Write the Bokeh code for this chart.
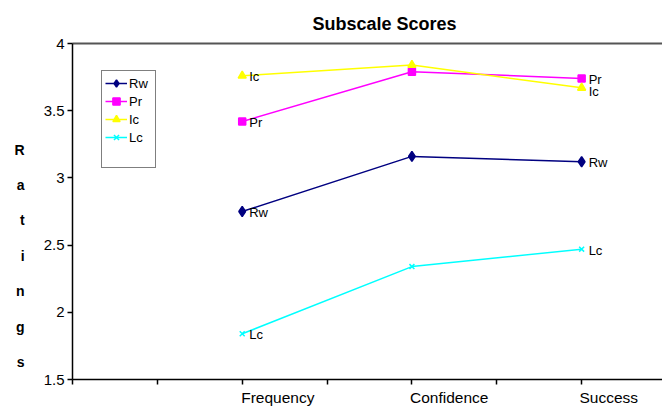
from bokeh.plotting import figure
from bokeh.models import (Range1d, FixedTicker, Legend, LegendItem, LinearAxis,
                          ColumnDataSource)
from bokeh.core.properties import value
from bokeh.embed import file_html
from bokeh.resources import INLINE

# ---------------- data ----------------
categories = ["Frequency", "Confidence", "Success"]
series_names = ["Rw", "Pr", "Ic", "Lc"]
rw = [2.75, 3.16, 3.12]
pr = [3.42, 3.79, 3.74]
ic = [3.76, 3.84, 3.67]
lc = [1.84, 2.34, 2.47]
y_ticks = [1.5, 2.0, 2.5, 3.0, 3.5, 4.0]
y_tick_labels = ["1.5", "2", "2.5", "3", "3.5", "4"]
title_text = "Subscale Scores"
y_axis_title = "Ratings"

# ---------------- layout / style ----------------
cat_x = [2, 4, 6]                 # category slots on an axis ticked every slot 0..6
label_x = [2.42, 4.44, 6.32]      # tick-label anchors (labels start at the slot)
colors = ["#000080", "#FF00FF", "#FFFF00", "#00FFFF"]
markers = ["diamond", "square", "triangle", "x"]
msizes = [10, 7, 8, 7]
FONT = "Liberation Sans"

W, H = 662, 408
LEFT, TOP, BOTTOM = 72, 43, 28
x_end = 6.953

p = figure(width=W, height=H, x_range=Range1d(0, x_end), y_range=Range1d(1.5, 4),
           output_backend="svg", toolbar_location=None, title=title_text,
           min_border_left=LEFT, min_border_right=0, min_border_top=TOP,
           min_border_bottom=BOTTOM)
p.outline_line_color = None
p.grid.visible = False
p.background_fill_color = "white"
p.border_fill_color = "white"

xa = p.below[0]
ya = p.left[0]

# title
p.title.align = "left"
p.title.offset = 240
p.title.standoff = 20
p.title.text_font = FONT
p.title.text_font_size = "18px"
p.title.text_font_style = "bold"
p.title.text_color = "black"

# top border line of the plot area (an empty axis above)
top_axis = LinearAxis(ticker=FixedTicker(ticks=[], minor_ticks=[]),
                      axis_line_color="#555555", axis_line_width=2,
                      major_tick_line_color=None, minor_tick_line_color=None,
                      major_label_text_alpha=0)
p.add_layout(top_axis, "above")

# x axis (bottom)
xa.ticker = FixedTicker(ticks=label_x, minor_ticks=list(range(7)))
xa.major_label_overrides = {t: c for t, c in zip(label_x, categories)}
xa.major_tick_line_color = None
xa.major_tick_out = 0
xa.major_tick_in = 0
xa.minor_tick_out = 5
xa.minor_tick_in = 0
xa.minor_tick_line_color = "black"
xa.minor_tick_line_width = 1.5
xa.axis_line_color = "black"
xa.axis_line_width = 1.5
xa.major_label_standoff = 4
xa.major_label_text_font = FONT
xa.major_label_text_font_size = "15.5px"
xa.major_label_text_line_height = 1.0
xa.major_label_text_color = "black"

# y axis
ya.ticker = FixedTicker(ticks=y_ticks)
ya.major_label_overrides = {t: s for t, s in zip(y_ticks, y_tick_labels)}
ya.minor_tick_line_color = None
ya.major_tick_out = 5
ya.major_tick_in = 0
ya.major_tick_line_color = "black"
ya.major_tick_line_width = 1.5
ya.axis_line_color = "black"
ya.axis_line_width = 1.5
ya.major_label_standoff = 3
ya.major_label_text_font = FONT
ya.major_label_text_font_size = "15px"
ya.major_label_text_color = "black"
# stacked letters as the axis title (one blank line between letters)
ya.axis_label = "\n" * 5 + "\n\n".join(list(y_axis_title))
ya.axis_label_orientation = "horizontal"
ya.axis_label_text_line_height = 1.106
ya.axis_label_standoff = 16
ya.axis_label_text_font = FONT
ya.axis_label_text_font_size = "14px"
ya.axis_label_text_font_style = "bold"
ya.axis_label_text_color = "black"
ya.axis_label_text_align = "center"

# series
all_vals = [rw, pr, ic, lc]
items = []
for name, vals, c, m, s in zip(series_names, all_vals, colors, markers, msizes):
    lr = p.line(cat_x, vals, line_color=c, line_width=1.5)
    sr = p.scatter(cat_x, vals, marker=m, size=s, fill_color=c, line_color=c,
                   line_width=1.5)
    items.append(LegendItem(label=name, renderers=[lr, sr]))

dummy = p.line(x=[], y=[], line_alpha=0)
items.append(LegendItem(label=" ", renderers=[dummy]))

# data labels at first and last points
lx, ly, lt, ldy = [], [], [], []
for name, vals in zip(series_names, all_vals):
    for i in (0, len(vals) - 1):
        lx.append(cat_x[i])
        ly.append(vals[i])
        lt.append(name)
        ldy.append(4 if (name == "Ic" and i == len(vals) - 1) else 1)
src = ColumnDataSource(data=dict(x=lx, y=ly, t=lt, dy=ldy))
p.text(x="x", y="y", text="t", y_offset="dy", x_offset=7, source=src,
       text_font=value(FONT), text_font_size=value("13px"),
       text_baseline="middle", text_align="left", text_color="black")

legend = Legend(items=items, location=(29, 211), padding=3, spacing=0,
                label_height=18, glyph_height=18, glyph_width=22,
                label_standoff=2, label_width=23, margin=0,
                border_line_color="black", border_line_width=1,
                background_fill_color="white", background_fill_alpha=1,
                label_text_font=FONT, label_text_font_size="13px",
                label_text_color="black")
p.add_layout(legend)

open("out.html", "w").write(file_html(p, INLINE))
